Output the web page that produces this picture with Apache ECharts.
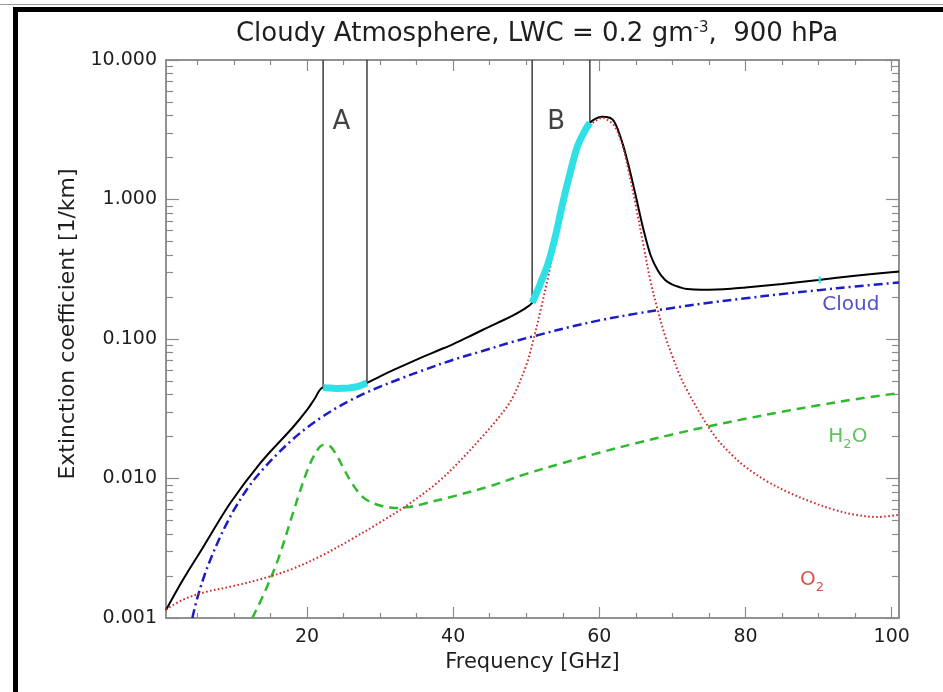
<!DOCTYPE html>
<html>
<head>
<meta charset="utf-8">
<script src="https://cdn.jsdelivr.net/npm/echarts@6/dist/echarts.min.js"></script>
<style>
  html, body { margin: 0; padding: 0; background: #ffffff; }
  #chart { width: 943px; height: 692px; }
</style>
</head>
<body>
<div id="chart"></div>
<script>
// ---- Extinction spectra, cloudy atmosphere, LWC 0.2 g/m3 at 900 hPa ----

// Total extinction
const totalFreq = [0.7, 3, 5.8, 9.5, 13.6, 18.1, 20, 21, 22.2, 23, 24, 25, 26, 27, 28.2,
  30, 32, 34, 36, 38, 40, 42, 44, 46, 48, 49, 50, 50.8, 51.5, 52, 53, 54, 55, 56, 57, 58, 58.7, 59.5, 60.3,
  61, 61.8, 62.5, 63.3, 64, 65, 66, 67, 68, 69, 70, 71, 72, 74, 76, 78, 80, 85, 90, 95, 101];
const totalExt = [0.00114, 0.00187, 0.00323, 0.00667, 0.01290, 0.02340, 0.03100, 0.03700, 0.04500, 0.04450,
  0.04420, 0.04430, 0.04480, 0.04580, 0.04850, 0.05400, 0.06050, 0.06750, 0.07500, 0.08300, 0.09200, 0.10300,
  0.11600, 0.13000, 0.14600, 0.15600, 0.16800, 0.18200, 0.22000, 0.25500, 0.35000, 0.55000, 0.95000, 1.55000,
  2.40000, 3.10000, 3.55000, 3.80000, 3.92000, 3.90000, 3.75000, 3.20000, 2.40000, 1.75000, 1.05000, 0.62000,
  0.40000, 0.31000, 0.26500, 0.24500, 0.23500, 0.22800, 0.22500, 0.22600, 0.22900, 0.23400, 0.24800, 0.26500,
  0.28400, 0.30500];

// Cloud liquid water
const cloudFreq = [4.3, 5, 6, 7, 8, 9, 10, 12, 14, 16, 18, 20, 22, 24, 26, 28, 30, 33, 36, 40, 44, 48, 52, 56,
  60, 65, 70, 75, 80, 85, 90, 95, 101];
const cloudExt = [0.00100, 0.00140, 0.00205, 0.00280, 0.00370, 0.00475, 0.00595, 0.00870, 0.01170, 0.01510,
  0.01900, 0.02320, 0.02750, 0.03200, 0.03650, 0.04100, 0.04550, 0.05250, 0.06000, 0.07100, 0.08200, 0.09500,
  0.10800, 0.12200, 0.13600, 0.15200, 0.16700, 0.18200, 0.19600, 0.21000, 0.22400, 0.23800, 0.25400];

// Water vapour
const h2oFreq = [12.5, 14, 16, 18, 19, 20, 21, 22.2, 23, 24, 25, 26, 27, 28, 30, 32, 34, 36, 40, 45, 50, 55,
  60, 65, 70, 75, 80, 85, 90, 95, 101];
const h2oExt = [0.00100, 0.00145, 0.00260, 0.00550, 0.00800, 0.01130, 0.01470, 0.01740, 0.01720, 0.01480,
  0.01180, 0.00950, 0.00800, 0.00710, 0.00640, 0.00615, 0.00625, 0.00660, 0.00745, 0.00880, 0.01080, 0.01290,
  0.01530, 0.01790, 0.02070, 0.02370, 0.02680, 0.03010, 0.03350, 0.03700, 0.04100];

// Oxygen
const o2Freq = [0.7, 3, 6, 10, 14, 18, 22, 26, 30, 34, 38, 41, 44, 46, 48, 50, 51, 52, 53, 54, 55, 56, 57, 58,
  59, 60, 60.5, 61, 62, 63, 64, 65, 66, 67, 68, 69, 70, 71, 72, 74, 76, 78, 80, 83, 86, 89, 92, 95, 98, 101];
const o2Ext = [0.00115, 0.00135, 0.00153, 0.00170, 0.00192, 0.00225, 0.00280, 0.00365, 0.00485, 0.00660,
  0.00950, 0.01350, 0.02000, 0.02650, 0.03700, 0.06500, 0.10000, 0.16500, 0.28000, 0.50000, 0.85000, 1.40000,
  2.20000, 2.95000, 3.50000, 3.80000, 3.85000, 3.75000, 3.40000, 2.60000, 1.60000, 0.90000, 0.48000, 0.26000,
  0.16000, 0.10500, 0.07500, 0.05500, 0.04300, 0.02800, 0.01950, 0.01500, 0.01210, 0.00950, 0.00790, 0.00680,
  0.00600, 0.00550, 0.00530, 0.00550];

// Highlighted channel bands on the total curve
const bandAFreq = [22.2, 23, 24, 25, 26, 27, 28.2];
const bandAExt = [0.04500, 0.04450, 0.04420, 0.04430, 0.04480, 0.04580, 0.04850];
const bandBFreq = [50.8, 51.5, 52, 53, 54, 55, 56, 57, 58, 58.7];
const bandBExt = [0.18200, 0.22000, 0.25500, 0.35000, 0.55000, 0.95000, 1.55000, 2.40000, 3.10000, 3.55000];
const bandCFreq = [90.0, 90.3];
const bandCExt = [0.26500, 0.26530];

// Band edge markers: frequency and the total extinction where each edge meets the curve
const edgeFreq = [22.2, 28.2, 50.8, 58.7];
const edgeExt = [0.04500, 0.04850, 0.18200, 3.55000];
const edgeTop = 10;

// Axis ticks
const xMajorTicks = [20, 40, 60, 80, 100];
const xMinorTicks = [5, 10, 15, 25, 30, 35, 45, 50, 55, 65, 70, 75, 85, 90, 95];
const yMajorTicks = [0.001, 0.01, 0.1, 1, 10];
const yDecades = [0.001, 0.01, 0.1, 1];
const yMinorSteps = [2, 3, 4, 5, 6, 7, 8, 9];
const yMinorTicks = [];
yDecades.forEach(d => yMinorSteps.forEach(s => yMinorTicks.push(+(d * s).toPrecision(3))));

// ---- Styling ----
const FONT = '"DejaVu Sans", "Liberation Sans", Arial, sans-serif';
const AXIS_COLOR = '#8a8a8a';
const TEXT_COLOR = '#1e1e1e';
const X_MIN = 0.7, X_MAX = 101;
const Y_MIN = 0.001, Y_MAX = 10;

const zip = (xs, ys) => xs.map((x, i) => [x, ys[i]]);

function xAxisDef(position, ticks, len, withLabels) {
  return {
    type: 'value', gridIndex: 0, position: position, min: X_MIN, max: X_MAX,
    axisLine: { show: true, onZero: false, lineStyle: { color: AXIS_COLOR, width: 1.5 } },
    axisTick: { show: true, inside: true, length: len, customValues: ticks,
      lineStyle: { color: AXIS_COLOR, width: 1.2 } },
    axisLabel: withLabels ? { show: true, customValues: ticks, margin: 10, fontSize: 19,
      fontFamily: FONT, color: TEXT_COLOR } : { show: false },
    splitLine: { show: false },
    name: withLabels ? 'Frequency [GHz]' : '',
    nameLocation: 'middle', nameGap: 34,
    nameTextStyle: { fontSize: 21, fontFamily: FONT, color: TEXT_COLOR }
  };
}

function yAxisDef(position, ticks, len, withLabels) {
  return {
    type: 'log', logBase: 10, gridIndex: 0, position: position, min: Y_MIN, max: Y_MAX,
    axisLine: { show: true, onZero: false, lineStyle: { color: AXIS_COLOR, width: 1.5 } },
    axisTick: { show: true, inside: true, length: len, customValues: ticks,
      lineStyle: { color: AXIS_COLOR, width: 1.2 } },
    axisLabel: withLabels ? { show: true, customValues: ticks, margin: 9, fontSize: 19,
      fontFamily: FONT, color: TEXT_COLOR, formatter: v => Number(v).toFixed(3) } : { show: false },
    splitLine: { show: false },
    name: withLabels ? 'Extinction coefficient [1/km]' : '',
    nameLocation: 'middle', nameGap: 81,
    nameTextStyle: { fontSize: 22, fontFamily: FONT, color: TEXT_COLOR, padding: [0, 0, 0, 30] }
  };
}

function curve(name, data, color, width, dash, z) {
  return {
    name: name, type: 'line', data: data, showSymbol: false, symbol: 'none',
    smooth: 0.35, z: z, silent: true, animation: false,
    lineStyle: { color: color, width: width, type: dash, cap: 'butt' }
  };
}

function label(pos, text, color, size, rich) {
  return {
    type: 'scatter', data: [pos], symbolSize: 0, silent: true, z: 20, animation: false,
    label: { show: true, position: 'inside', formatter: text, color: color, fontSize: size,
      fontFamily: FONT, rich: rich || {} }
  };
}

const subRich = (color) => ({
  b: { fontSize: 20, color: color, fontFamily: FONT },
  s: { fontSize: 13, color: color, fontFamily: FONT, verticalAlign: 'bottom', padding: [15, 0, 0, 0] }
});

const edgeSeries = edgeFreq.map((f, i) => ({
  type: 'line', data: [[f, edgeExt[i]], [f, edgeTop]], showSymbol: false, symbol: 'none',
  z: 6, silent: true, animation: false,
  lineStyle: { color: '#3c3c3c', width: 1.5 }
}));

const option = {
  animation: false,
  backgroundColor: '#ffffff',
  grid: { left: 166, right: 44, top: 60, bottom: 74, containLabel: false },
  title: {
    text: '{t|Cloudy Atmosphere, LWC = 0.2 gm}{s|-3}{t|,  900 hPa}',
    left: 532, top: 16, textAlign: 'center',
    textStyle: {
      fontWeight: 'normal',
      rich: {
        t: { fontSize: 26, fontFamily: FONT, color: TEXT_COLOR, fontWeight: 'normal' },
        s: { fontSize: 15, fontFamily: FONT, color: TEXT_COLOR, fontWeight: 'normal',
          verticalAlign: 'top', padding: [0, 0, 10, 0] }
      }
    }
  },
  xAxis: [
    xAxisDef('bottom', xMajorTicks, 11, true),
    xAxisDef('bottom', xMinorTicks, 5, false),
    xAxisDef('top', xMajorTicks, 11, false),
    xAxisDef('top', xMinorTicks, 5, false)
  ],
  yAxis: [
    yAxisDef('left', yMajorTicks, 13, true),
    yAxisDef('left', yMinorTicks, 7, false),
    yAxisDef('right', yMajorTicks, 13, false),
    yAxisDef('right', yMinorTicks, 7, false)
  ],
  graphic: [
    { type: 'rect', shape: { x: 13, y: 7, width: 930, height: 5 }, style: { fill: '#000' }, z: 100 },
    { type: 'rect', shape: { x: 13, y: 7, width: 5, height: 685 }, style: { fill: '#000' }, z: 100 },
    { type: 'rect', shape: { x: 0, y: 4, width: 943, height: 1 }, style: { fill: '#9a9a9a' }, z: 100 }
  ],
  series: [
    curve('Total', zip(totalFreq, totalExt), '#000000', 2, 'solid', 5),
    curve('Cloud', zip(cloudFreq, cloudExt), '#1c1cc4', 2.5, [9, 4, 2, 4], 4),
    curve('H2O', zip(h2oFreq, h2oExt), '#2fb92f', 2.5, [9, 6], 4),
    curve('O2', zip(o2Freq, o2Ext), '#cf2a2a', 2, [1.6, 2.4], 6),
    curve('Band A', zip(bandAFreq, bandAExt), '#2fe0e6', 7, 'solid', 7),
    curve('Band B', zip(bandBFreq, bandBExt), '#2fe0e6', 7, 'solid', 7),
    curve('Band C', zip(bandCFreq, bandCExt), '#2fe0e6', 7, 'solid', 7),
    ...edgeSeries,
    label([24.7, 3.6], 'A', '#111111', 26),
    label([54.1, 3.6], 'B', '#111111', 26),
    label([94.4, 0.175], 'Cloud', '#2626c0', 20),
    label([94.0, 0.0198], '{b|H}{s|2}{b|O}', '#35b535', 20, subRich('#35b535')),
    label([89.1, 0.00187], '{b|O}{s|2}', '#d42222', 20, subRich('#d42222'))
  ]
};

const chart = echarts.init(document.getElementById('chart'), null, { renderer: 'canvas' });
chart.setOption(option);
</script>
</body>
</html>
